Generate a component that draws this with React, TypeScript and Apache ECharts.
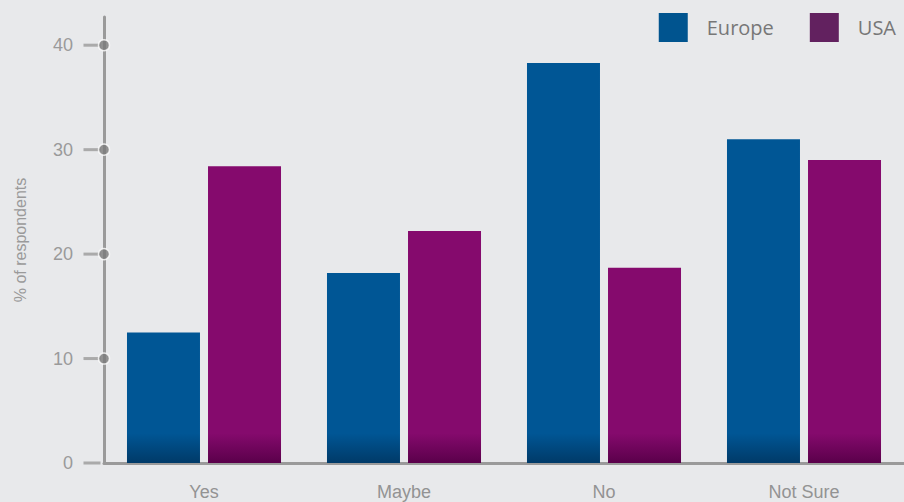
import React, { useEffect, useRef } from "react";
import * as echarts from "echarts";

const categories = ["Yes", "Maybe", "No", "Not Sure"];
const europe = [12.5, 18.2, 38.3, 31.0];
const usa = [28.4, 22.2, 18.7, 29.0];
const yTicks = [10, 20, 30, 40];
const stubTicks = [0, 10, 20, 30, 40];

const grad = (top: string, bottom: string) =>
  new echarts.graphic.LinearGradient(
    0, 428, 0, 463,
    [
      { offset: 0, color: top },
      { offset: 0.15, color: top },
      { offset: 1, color: bottom },
    ],
    true
  );

export default function App() {
  const ref = useRef<HTMLDivElement>(null);
  useEffect(() => {
    const chart = echarts.init(ref.current!, null, { renderer: "svg" });
    const axisGray = "#9a9a9a";
    chart.setOption({
      animation: false,
      backgroundColor: "#e8e9eb",
      textStyle: { fontFamily: "Liberation Sans" },
      legend: {
        right: 8,
        top: 13,
        padding: 0,
        itemWidth: 29,
        itemHeight: 29,
        itemGap: 36,
        icon: "rect",
        textStyle: {
          fontFamily: "Open Sans",
          fontSize: 20,
          color: "#777",
          padding: [0, 0, 0, 14],
        },
        data: [
          { name: "Europe", itemStyle: { color: "#00548f" } },
          { name: "USA", itemStyle: { color: "#62215f" } },
        ],
      },
      grid: { left: 104, right: -3, top: 17, bottom: 39, containLabel: false },
      xAxis: [
        {
          type: "category",
          data: categories,
          axisLine: { show: true, lineStyle: { color: axisGray, width: 3 } },
          axisTick: { show: false },
          axisLabel: {
            color: "#939393",
            fontSize: 18,
            margin: 20,
          },
        },
        {
          type: "value",
          min: 0,
          max: 1,
          show: false,
        },
      ],
      yAxis: {
        type: "value",
        min: 0,
        max: 42.7,
        interval: 10,
        name: "% of respondents",
        nameLocation: "middle",
        nameGap: 76,
        nameTextStyle: { color: "#9a9a9a", fontSize: 16, fontFamily: "Liberation Sans" },
        axisLine: { show: true, lineStyle: { color: axisGray, width: 3 } },
        axisTick: { show: false },
        splitLine: { show: false },
        axisLabel: {
          color: "#9a9a9a",
          fontSize: 18,
          margin: 31,
          showMaxLabel: false,
        },
      },
      series: [
        {
          name: "Europe",
          type: "bar",
          data: europe,
          barWidth: 73,
          barGap: "11%",
          itemStyle: { color: grad("#005695", "#003a68") },
        },
        {
          name: "USA",
          type: "bar",
          data: usa,
          barWidth: 73,
          barGap: "11%",
          itemStyle: { color: grad("#850a6d", "#5a004a") },
        },
        {
          name: "stubs",
          type: "scatter",
          xAxisIndex: 1,
          data: stubTicks.map((v) => [0, v]),
          symbol: "rect",
          symbolSize: [17, 3],
          symbolOffset: [-12, 0],
          itemStyle: { color: axisGray },
          silent: true,
          z: 3,
        },
        {
          name: "dots",
          type: "scatter",
          xAxisIndex: 1,
          data: yTicks.map((v) => [0, v]),
          symbol: "circle",
          symbolSize: 11,
          itemStyle: { color: "#7a7a7a", borderColor: "#ffffff", borderWidth: 1.5 },
          silent: true,
          z: 4,
        },
      ],
    });
    return () => chart.dispose();
  }, []);
  return <div ref={ref} style={{ width: 904, height: 502, position: "absolute", left: 0, top: 0 }} />;
}
